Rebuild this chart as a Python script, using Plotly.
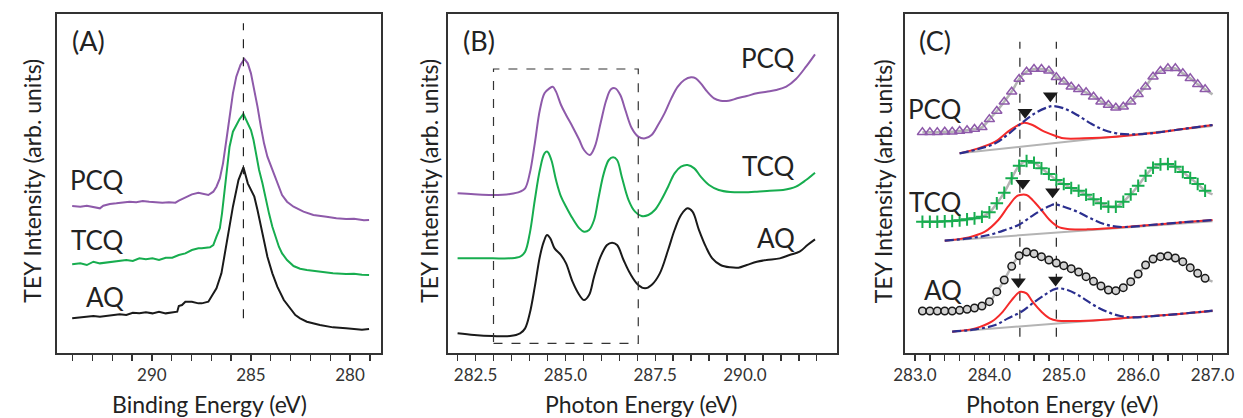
import plotly.graph_objects as go

W, H = 1243, 418

# ---------------- Panel A: XPS C1s (binding energy, reversed axis) ----------------
A_AQ_X = [294.02, 293.61, 293.28, 292.95, 292.62, 292.29, 291.95, 291.62, 291.29, 290.96,
          290.63, 290.30, 289.97, 289.64, 289.30, 288.97, 288.72, 288.64, 288.48, 288.31,
          287.98, 287.65, 287.48, 287.15, 286.99, 286.74, 286.49, 286.19, 285.91, 285.63,
          285.38, 285.16, 285.00, 284.83, 284.67, 284.50, 284.34, 284.17, 283.92, 283.67,
          283.34, 283.01, 282.76, 282.52, 282.18, 281.52, 280.86, 280.20, 279.80, 279.40, 279.04]
A_AQ_Y = [10.3, 10.5, 10.8, 11.0, 10.8, 11.1, 11.3, 11.5, 11.3, 12.0,
          11.8, 12.1, 11.8, 12.3, 11.8, 12.0, 12.3, 14.0, 14.3, 15.3,
          15.3, 14.8, 14.8, 15.3, 16.8, 19.3, 23.8, 33.8, 43.8, 51.8,
          55.6, 50.8, 48.8, 46.8, 42.8, 37.8, 32.8, 28.8, 23.8, 19.8,
          15.8, 13.3, 11.3, 10.3, 9.3, 8.3, 7.6, 7.3, 7.2, 6.9, 7.1]

A_TCQ_X = [294.02, 293.61, 293.28, 292.95, 292.62, 292.29, 291.95, 291.62, 291.29, 290.96,
           290.63, 290.30, 289.97, 289.64, 289.30, 288.97, 288.64, 288.31, 287.98, 287.65,
           287.48, 287.07, 286.90, 286.74, 286.57, 286.46, 286.32, 286.19, 286.08, 285.91,
           285.74, 285.58, 285.38, 285.16, 285.00, 284.87, 284.75, 284.59, 284.42, 284.25,
           284.09, 283.92, 283.76, 283.59, 283.43, 283.18, 282.85, 282.52, 282.18, 281.52,
           280.86, 280.20, 279.80, 279.40, 279.04]
A_TCQ_Y = [26.5, 26.8, 26.3, 27.3, 26.8, 27.1, 27.3, 27.5, 27.8, 27.5,
           28.3, 28.0, 28.3, 27.8, 28.5, 28.5, 29.3, 29.8, 30.8, 31.3,
           31.3, 31.6, 32.3, 34.8, 37.3, 41.8, 48.8, 55.8, 61.8, 66.3,
           68.3, 70.0, 71.6, 68.8, 66.8, 63.8, 59.8, 54.8, 50.8, 45.8,
           41.8, 37.8, 34.8, 31.8, 29.8, 27.8, 26.0, 25.2, 24.8, 24.3,
           23.8, 23.6, 23.7, 23.4, 23.3]

A_PCQ_X = [294.02, 293.61, 293.28, 292.95, 292.62, 292.45, 292.12, 291.79, 291.46, 291.13,
           290.79, 290.46, 290.13, 289.80, 289.47, 289.14, 288.81, 288.64, 288.31, 287.98,
           287.65, 287.40, 287.15, 286.90, 286.74, 286.57, 286.41, 286.24, 286.08, 285.91,
           285.74, 285.53, 285.33, 285.16, 285.00, 284.83, 284.67, 284.50, 284.34, 284.17,
           283.92, 283.67, 283.43, 283.18, 282.85, 282.35, 281.85, 281.19, 280.69, 280.20,
           279.80, 279.30, 279.04]
A_PCQ_Y = [44.0, 43.8, 44.1, 43.8, 43.3, 44.1, 44.6, 44.8, 45.1, 45.3,
           45.1, 45.5, 45.3, 45.1, 45.0, 45.1, 45.0, 45.6, 46.5, 47.5,
           48.0, 47.6, 47.3, 48.3, 49.8, 52.3, 56.8, 63.8, 70.8, 77.8,
           82.8, 86.3, 88.1, 86.8, 83.8, 78.8, 73.8, 67.8, 62.8, 58.8,
           54.8, 50.8, 47.3, 45.3, 43.8, 42.3, 41.3, 40.8, 40.3, 40.1,
           40.2, 39.7, 39.8]

A_PEAK_LINE_X = 285.38
A_PEAK_LINE_Y = [10.3, 98.8]
A_TICKVALS = [279, 280, 281, 282, 283, 284, 285, 286, 287, 288, 289, 290, 291, 292, 293, 294]
A_TICKTEXT = ["", "280", "", "", "", "", "285", "", "", "", "", "290", "", "", "", ""]

# ---------------- Panel B: NEXAFS C K-edge ----------------
B_AQ_X = [282.00, 282.46, 282.98, 283.46, 283.74, 283.88, 284.01, 284.15, 284.29, 284.40,
          284.49, 284.58, 284.70, 284.88, 285.02, 285.20, 285.39, 285.52, 285.66, 285.80,
          285.98, 286.16, 286.30, 286.44, 286.62, 286.80, 287.03, 287.22, 287.40, 287.63,
          287.86, 288.04, 288.22, 288.40, 288.54, 288.72, 288.91, 289.09, 289.32, 289.59,
          289.82, 290.05, 290.33, 290.60, 290.97, 291.24, 291.52, 291.74, 291.95]
B_AQ_Y = [5.8, 5.3, 5.0, 5.0, 5.8, 7.3, 11.8, 19.8, 28.8, 33.3,
          35.3, 34.3, 31.3, 29.3, 26.8, 21.3, 17.3, 15.8, 17.3, 22.8,
          28.8, 32.3, 33.0, 32.3, 27.8, 23.8, 20.3, 19.3, 20.3, 23.8,
          30.8, 36.8, 41.3, 43.3, 42.3, 36.8, 31.8, 28.3, 26.3, 25.6,
          25.5, 26.3, 27.3, 27.8, 28.3, 29.3, 30.3, 32.3, 34.0]

B_TCQ_X = [282.00, 282.46, 282.98, 283.46, 283.74, 283.88, 284.01, 284.15, 284.29, 284.42,
           284.50, 284.61, 284.74, 284.88, 285.02, 285.20, 285.39, 285.52, 285.66, 285.80,
           285.93, 286.07, 286.21, 286.33, 286.44, 286.57, 286.76, 286.94, 287.12, 287.31,
           287.49, 287.67, 287.86, 288.04, 288.22, 288.40, 288.59, 288.77, 289.00, 289.27,
           289.59, 289.96, 290.33, 290.69, 291.06, 291.42, 291.70, 291.95]
B_TCQ_Y = [28.3, 28.3, 28.3, 28.3, 28.8, 30.3, 35.8, 45.8, 54.8, 59.8,
           60.3, 57.8, 51.8, 46.8, 43.8, 40.3, 37.3, 36.3, 36.8, 39.8,
           46.8, 53.8, 57.8, 58.6, 57.8, 52.8, 45.8, 42.3, 41.0, 41.3,
           42.8, 45.8, 49.8, 53.8, 55.8, 56.3, 55.3, 52.8, 50.3, 48.8,
           48.2, 48.1, 48.3, 48.6, 48.8, 49.8, 51.8, 54.0]

B_PCQ_X = [282.00, 282.46, 282.98, 283.46, 283.74, 283.88, 284.01, 284.15, 284.29, 284.42,
           284.56, 284.65, 284.74, 284.88, 285.02, 285.20, 285.39, 285.52, 285.68, 285.82,
           285.98, 286.14, 286.27, 286.39, 286.53, 286.67, 286.85, 287.03, 287.22, 287.40,
           287.58, 287.76, 287.95, 288.13, 288.31, 288.50, 288.63, 288.77, 288.95, 289.14,
           289.32, 289.55, 289.78, 290.05, 290.33, 290.60, 290.87, 291.15, 291.42, 291.70,
           291.95]
B_PCQ_Y = [47.8, 47.5, 47.3, 47.6, 48.3, 49.3, 53.8, 62.8, 72.8, 77.8,
           79.3, 79.8, 78.3, 74.3, 71.3, 67.8, 63.8, 60.8, 59.3, 61.8,
           68.8, 75.8, 79.0, 79.3, 77.3, 72.8, 67.3, 64.8, 64.3, 65.3,
           68.3, 71.8, 76.3, 79.8, 81.8, 82.6, 82.3, 80.8, 78.3, 76.3,
           75.6, 75.6, 76.3, 77.0, 77.8, 78.3, 78.8, 79.8, 82.1, 85.8,
           89.5]

B_BOX_X = [283.0, 287.03]
B_BOX_Y = [2.8, 85.1]
B_TICKVALS = [282.0, 282.5, 283.0, 283.5, 284.0, 284.5, 285.0, 285.5, 286.0, 286.5, 287.0,
              287.5, 288.0, 288.5, 289.0, 289.5, 290.0, 290.5, 291.0, 291.5, 292.0]
B_TICKTEXT = ["", "282.5", "", "", "", "", "285.0", "", "", "", "",
              "287.5", "", "", "", "", "290.0", "", "", "", ""]

# ---------------- Panel C: peak fits of the pi* region ----------------
C_X = [283.1, 283.2, 283.3, 283.4, 283.5, 283.6, 283.7, 283.8, 283.9, 284.0,
       284.1, 284.2, 284.3, 284.4, 284.5, 284.6, 284.7, 284.8, 284.9, 285.0,
       285.1, 285.2, 285.3, 285.4, 285.5, 285.6, 285.7, 285.8, 285.9, 286.0,
       286.1, 286.2, 286.3, 286.4, 286.5, 286.6, 286.7, 286.8, 286.9]
C_PCQ_Y = [66.1, 66.1, 66.1, 66.3, 66.3, 66.5, 66.7, 67.1, 67.6, 70.0,
           72.5, 75.3, 78.3, 82.1, 84.3, 85.1, 85.1, 84.6, 82.6, 81.3,
           79.8, 79.0, 78.1, 76.8, 75.3, 74.3, 73.5, 73.8, 75.3, 77.5,
           79.8, 82.8, 84.5, 85.3, 85.3, 83.8, 82.3, 80.5, 79.0]
C_TCQ_Y = [39.3, 39.3, 39.3, 39.4, 39.5, 39.7, 40.0, 40.3, 40.8, 42.1,
           44.8, 48.0, 52.3, 56.1, 57.5, 57.0, 55.3, 53.6, 51.8, 50.6,
           49.4, 48.6, 47.4, 46.0, 44.8, 43.8, 43.8, 45.3, 47.5, 50.1,
           53.1, 55.5, 56.5, 56.6, 55.8, 54.2, 52.4, 50.6, 48.6]
C_AQ_Y = [12.5, 12.5, 12.5, 12.5, 12.5, 12.7, 13.0, 13.4, 14.0, 15.3,
          18.3, 21.8, 25.9, 29.1, 30.2, 29.7, 28.8, 27.8, 26.9, 26.1,
          25.2, 24.2, 22.8, 21.4, 20.0, 18.8, 18.6, 19.5, 21.3, 23.6,
          26.3, 28.1, 28.8, 29.0, 28.4, 27.3, 25.5, 23.8, 22.3]
C_FIT_END_X = 287.0
C_FIT_END_Y = {"PCQ": 77.5, "TCQ": 47.5, "AQ": 21.3}

# fitted components: peak 1 (red, solid) and peak 2 (blue, dash-dot), plus linear background
C_PCQ_P1_X = [283.60, 283.85, 284.08, 284.25, 284.39, 284.47, 284.58, 284.74, 284.92, 285.00,
              285.27, 285.71, 286.16, 286.60, 287.00]
C_PCQ_P1_Y = [59.8, 61.3, 63.3, 66.3, 68.3, 69.0, 68.3, 66.3, 64.8, 64.3,
              64.3, 64.8, 65.8, 67.1, 68.3]
C_PCQ_P2_X = [283.60, 283.85, 284.08, 284.25, 284.43, 284.61, 284.78, 284.85, 285.00, 285.18,
              285.36, 285.54, 285.71, 285.93, 286.16, 286.60, 287.00]
C_PCQ_P2_Y = [59.8, 61.1, 62.8, 65.5, 68.8, 71.8, 73.6, 74.0, 73.3, 71.3,
              68.8, 66.8, 65.8, 65.5, 65.8, 67.1, 68.3]
C_PCQ_BG_X = [283.60, 287.00]
C_PCQ_BG_Y = [59.8, 68.0]

C_TCQ_P1_X = [283.40, 283.72, 283.94, 284.12, 284.25, 284.36, 284.41, 284.50, 284.58, 284.70,
              284.81, 284.92, 285.05, 285.32, 285.71, 286.16, 286.60, 287.00]
C_TCQ_P1_Y = [33.6, 34.6, 36.3, 39.8, 43.8, 46.8, 47.3, 47.3, 45.8, 42.8,
              39.8, 37.8, 37.1, 37.0, 37.5, 38.3, 39.1, 39.8]
C_TCQ_P2_X = [283.40, 283.72, 283.99, 284.21, 284.39, 284.56, 284.70, 284.81, 284.87, 285.00,
              285.18, 285.36, 285.54, 285.71, 285.93, 286.16, 286.60, 287.00]
C_TCQ_P2_Y = [33.6, 34.3, 35.3, 36.8, 38.3, 40.8, 42.8, 44.0, 44.5, 43.8,
              42.3, 40.3, 38.6, 37.8, 37.8, 38.3, 39.1, 39.8]
C_TCQ_BG_X = [283.40, 287.00]
C_TCQ_BG_Y = [33.6, 39.4]

C_AQ_P1_X = [283.50, 283.81, 284.03, 284.16, 284.30, 284.39, 284.42, 284.50, 284.58, 284.70,
             284.81, 284.92, 285.14, 285.49, 285.93, 286.38, 287.00]
C_AQ_P1_Y = [6.3, 7.3, 9.3, 11.8, 15.8, 18.0, 18.3, 17.8, 15.3, 12.3,
             10.3, 9.6, 9.5, 9.8, 10.6, 11.3, 12.6]
C_AQ_P2_X = [283.50, 283.81, 284.08, 284.25, 284.43, 284.61, 284.74, 284.85, 284.92, 285.05,
             285.23, 285.40, 285.58, 285.76, 285.93, 286.38, 287.00]
C_AQ_P2_Y = [6.3, 7.0, 8.3, 10.3, 12.3, 15.3, 17.3, 18.8, 19.3, 18.8,
             16.8, 14.3, 12.3, 11.0, 10.6, 11.3, 12.6]
C_AQ_BG_X = [283.50, 287.00]
C_AQ_BG_Y = [6.3, 12.4]

# peak position arrows (filled down-triangles)
C_ARROW_X = [284.48, 284.82, 284.45, 284.85, 284.39, 284.89]
C_ARROW_Y = [72.1, 77.1, 50.8, 48.3, 21.3, 21.8]

C_PEAK_LINES_X = [284.41, 284.90]
C_PEAK_LINES_Y = [4.8, 93.3]
C_TICKVALS = [283.0, 283.2, 283.4, 283.6, 283.8, 284.0, 284.2, 284.4, 284.6, 284.8, 285.0,
              285.2, 285.4, 285.6, 285.8, 286.0, 286.2, 286.4, 286.6, 286.8, 287.0]
C_TICKTEXT = ["283.0", "", "", "", "", "284.0", "", "", "", "", "285.0",
              "", "", "", "", "286.0", "", "", "", "", "287.0"]

# ---------------- styling ----------------
PURPLE = "#8e5aaa"
GREEN = "#17ad4f"
BLACK = "#1a1a1a"
RED = "#f52a2a"
NAVY = "#2b2f8f"
GREYFIT = "#b4b4b4"
AXC = "#333333"
FONT = "Lato"

fig = go.Figure()


def line(x, y, color, ax, width=2.0, dash="solid", shape="linear"):
    fig.add_trace(go.Scatter(x=x, y=y, mode="lines", xaxis=ax[0], yaxis=ax[1],
                             line=dict(color=color, width=width, dash=dash, shape=shape,
                                       smoothing=1.0 if shape == "spline" else None),
                             hoverinfo="skip", showlegend=False))


A = ("x", "y")
B = ("x2", "y2")
C = ("x3", "y3")

# Panel A
line(A_PCQ_X, A_PCQ_Y, PURPLE, A, 2.0)
line(A_TCQ_X, A_TCQ_Y, GREEN, A, 2.0)
line(A_AQ_X, A_AQ_Y, BLACK, A, 2.0)
line([A_PEAK_LINE_X, A_PEAK_LINE_X], A_PEAK_LINE_Y, "#222222", A, 1.2, "dash")

# Panel B
line(B_PCQ_X, B_PCQ_Y, PURPLE, B, 2.0, shape="spline")
line(B_TCQ_X, B_TCQ_Y, GREEN, B, 2.0, shape="spline")
line(B_AQ_X, B_AQ_Y, BLACK, B, 2.0, shape="spline")
line([B_BOX_X[0], B_BOX_X[1], B_BOX_X[1], B_BOX_X[0], B_BOX_X[0]],
     [B_BOX_Y[0], B_BOX_Y[0], B_BOX_Y[1], B_BOX_Y[1], B_BOX_Y[0]], "#333333", B, 1.2, "dash")

# Panel C
for xpts in C_PEAK_LINES_X:
    line([xpts, xpts], C_PEAK_LINES_Y, "#222222", C, 1.2, "dash")

series = [
    ("PCQ", C_PCQ_Y, C_PCQ_BG_X, C_PCQ_BG_Y, C_PCQ_P1_X, C_PCQ_P1_Y, C_PCQ_P2_X, C_PCQ_P2_Y),
    ("TCQ", C_TCQ_Y, C_TCQ_BG_X, C_TCQ_BG_Y, C_TCQ_P1_X, C_TCQ_P1_Y, C_TCQ_P2_X, C_TCQ_P2_Y),
    ("AQ", C_AQ_Y, C_AQ_BG_X, C_AQ_BG_Y, C_AQ_P1_X, C_AQ_P1_Y, C_AQ_P2_X, C_AQ_P2_Y),
]
for name, ys, bgx, bgy, p1x, p1y, p2x, p2y in series:
    line(C_X + [C_FIT_END_X], ys + [C_FIT_END_Y[name]], GREYFIT, C, 2.5, shape="spline")
    line(bgx, bgy, GREYFIT, C, 2.0)
    line(p1x, p1y, RED, C, 2.0, shape="spline")
    line(p2x, p2y, NAVY, C, 2.2, "dashdot", shape="spline")

fig.add_trace(go.Scatter(x=C_X, y=C_PCQ_Y, mode="markers", xaxis="x3", yaxis="y3",
                         marker=dict(symbol="triangle-up-open", size=9, color=PURPLE,
                                     line=dict(width=1.5, color=PURPLE)),
                         hoverinfo="skip", showlegend=False))
fig.add_trace(go.Scatter(x=C_X, y=C_TCQ_Y, mode="markers", xaxis="x3", yaxis="y3",
                         marker=dict(symbol="cross-thin-open", size=9, color=GREEN,
                                     line=dict(width=2, color=GREEN)),
                         hoverinfo="skip", showlegend=False))
fig.add_trace(go.Scatter(x=C_X, y=C_AQ_Y, mode="markers", xaxis="x3", yaxis="y3",
                         marker=dict(symbol="circle", size=7.5, color="#d2d2d2",
                                     line=dict(width=1.5, color="#1a1a1a")),
                         hoverinfo="skip", showlegend=False))
fig.add_trace(go.Scatter(x=C_ARROW_X, y=C_ARROW_Y, mode="markers", xaxis="x3", yaxis="y3",
                         marker=dict(symbol="triangle-down", size=13, color="#1a1a1a"),
                         hoverinfo="skip", showlegend=False))


def px(xp):
    return xp / W


def py(yp):
    return 1 - yp / H


Y_DOM = [py(352.7), py(14.0)]
common_x = dict(showline=True, mirror=True, linecolor=AXC, linewidth=2, showgrid=False,
                zeroline=False, ticks="outside", ticklen=6, tickwidth=1.3, tickcolor=AXC,
                tickfont=dict(family=FONT, size=17, color="#333333"), tickmode="array")
common_y = dict(showline=True, mirror=True, linecolor=AXC, linewidth=2, showgrid=False,
                zeroline=False, ticks="", showticklabels=False, range=[0, 101.6])

fig.update_layout(
    width=W, height=H, margin=dict(l=0, r=0, t=0, b=0),
    paper_bgcolor="white", plot_bgcolor="white", showlegend=False,
    xaxis=dict(domain=[px(47), px(375)], range=[294.77, 278.46], anchor="y",
               tickvals=A_TICKVALS, ticktext=A_TICKTEXT, **common_x),
    yaxis=dict(domain=Y_DOM, anchor="x", **common_y),
    xaxis2=dict(domain=[px(443.3), px(837.7)], range=[281.73, 292.55], anchor="y2",
                tickvals=B_TICKVALS, ticktext=B_TICKTEXT, **common_x),
    yaxis2=dict(domain=Y_DOM, anchor="x2", **common_y),
    xaxis3=dict(domain=[px(906.7), px(1234.3)], range=[282.86, 287.20], anchor="y3",
                tickvals=C_TICKVALS, ticktext=C_TICKTEXT, **common_x),
    yaxis3=dict(domain=Y_DOM, anchor="x3", **common_y),
)

ann = []


def text(t, x, y, size, xanchor="center", angle=0):
    ann.append(dict(text=t, x=px(x), y=py(y), xref="paper", yref="paper", showarrow=False,
                    xanchor=xanchor, yanchor="middle", textangle=angle,
                    font=dict(family=FONT, size=size, color="#222222")))


# axis titles
text("TEY Intensity (arb. units)", 21, 181, 23, angle=-90)
text("TEY Intensity (arb. units)", 424, 181, 23, angle=-90)
text("TEY Intensity (arb. units)", 885, 181, 23, angle=-90)
text("Binding Energy (eV)", 201, 404, 23)
text("Photon Energy (eV)", 639, 404, 23)
text("Photon Energy (eV)", 1066, 404, 23)
# panel letters
text("(A)", 60, 40, 27, "left")
text("(B)", 457, 40, 27, "left")
text("(C)", 919, 40, 27, "left")
# sample labels
for t, x, y in [("PCQ", 117, 180), ("TCQ", 117, 240), ("AQ", 117, 297),
                ("PCQ", 798, 58), ("TCQ", 798, 166), ("AQ", 798, 238),
                ("PCQ", 967, 109), ("TCQ", 967, 202), ("AQ", 967, 290)]:
    text(t, x, y, 26, "right")

fig.update_layout(annotations=ann)
fig.write_html("out.html",
               config={"displayModeBar": False, "staticPlot": True},
               post_script="document.documentElement.style.margin='0';"
                           "document.body.style.margin='0';"
                           "document.body.style.overflow='hidden';")
